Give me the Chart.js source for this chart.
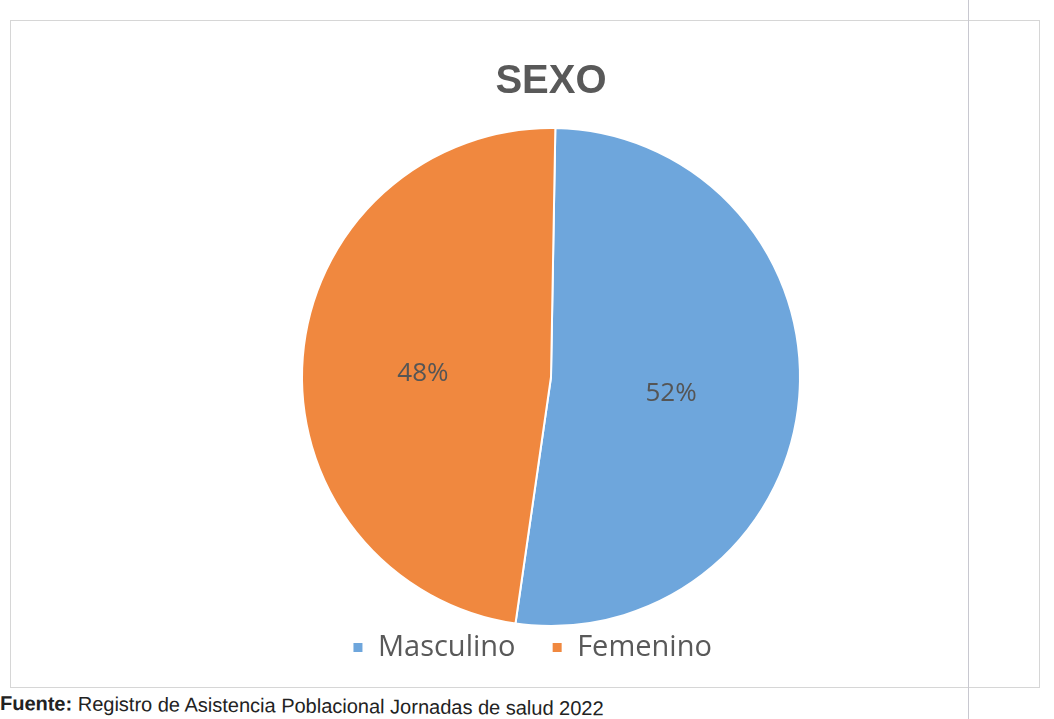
<!DOCTYPE html>
<html>
<head>
<meta charset="utf-8">
<script src="https://cdn.jsdelivr.net/npm/chart.js@4"></script>
<style>
  html, body { margin: 0; padding: 0; background: #fff; }
  body { width: 1054px; height: 719px; position: relative; overflow: hidden; }
  #frame { position: absolute; left: 10px; top: 20px; width: 1030px; height: 668px; border: 1px solid #d6d6d6; box-sizing: border-box; }
  #margin { position: absolute; left: 968px; top: 0; width: 1px; height: 719px; background: #c8c8d0; }
  #wrap { position: absolute; left: 0; top: 0; width: 1054px; height: 672px; }
  #footer { position: absolute; left: 0; top: 692px; font: 20px "Liberation Sans", Arial, sans-serif; color: #222; transform: rotate(0.5deg); transform-origin: left center; white-space: nowrap; }
</style>
</head>
<body>
<div id="frame"></div>
<div id="margin"></div>
<div id="wrap"><canvas id="sexoChart"></canvas></div>
<div id="footer"><b>Fuente:</b> Registro de Asistencia Poblacional Jornadas de salud 2022</div>
<script>
const labels = ['Masculino', 'Femenino'];
const values = [52, 48];
const colors = ['#6ea6dc', '#f0883f'];

// etiquetas de porcentaje dentro de cada sector
const pctLabels = {
	id: 'pctLabels',
	afterDatasetsDraw(chart) {
		const c = chart.ctx;
		const meta = chart.getDatasetMeta(0);
		c.save();
		c.font = '26px "Open Sans", "Noto Sans", sans-serif';
		c.fillStyle = '#555555';
		c.textAlign = 'center';
		c.textBaseline = 'middle';
		meta.data.forEach((arc, i) => {
			const p = arc.tooltipPosition();
			c.fillText(values[i] + '%', p.x - 4, p.y + 7);
		});
		c.restore();
	}
};

const baseLabels = Chart.overrides.pie.plugins.legend.labels.generateLabels;

const ctx = document.getElementById('sexoChart').getContext('2d');
const myChart = new Chart(ctx, {
	type: 'pie',
	data: {
		labels: labels,
		datasets: [{
			data: values,
			backgroundColor: colors,
			borderColor: '#ffffff',
			borderWidth: 2
		}]
	},
	options: {
		responsive: true,
		maintainAspectRatio: false,
		animation: false,
		rotation: 1,
		layout: { padding: { left: 48, right: 0, top: 0, bottom: 0 } },
		plugins: {
			title: {
				display: true,
				text: 'SEXO',
				color: '#595959',
				font: { family: '"Liberation Sans", Arial, sans-serif', size: 40, weight: 'bold' },
				padding: { top: 58, bottom: 21 }
			},
			legend: {
				position: 'bottom',
				padding: 2,
				labels: {
					color: '#595959',
					font: { family: '"Open Sans", "Noto Sans", sans-serif', size: 29 },
					boxWidth: 11,
					boxHeight: 11,
					padding: 6,
					// espacio extra entre elementos y desplazamiento a la izquierda
					generateLabels(chart) {
						const items = baseLabels(chart);
						items[0].text = items[0].text + '    ';
						items[1].text = items[1].text + '     ';
						return items;
					}
				}
			},
			tooltip: { enabled: false }
		}
	},
	plugins: [pctLabels]
});
</script>
</body>
</html>
